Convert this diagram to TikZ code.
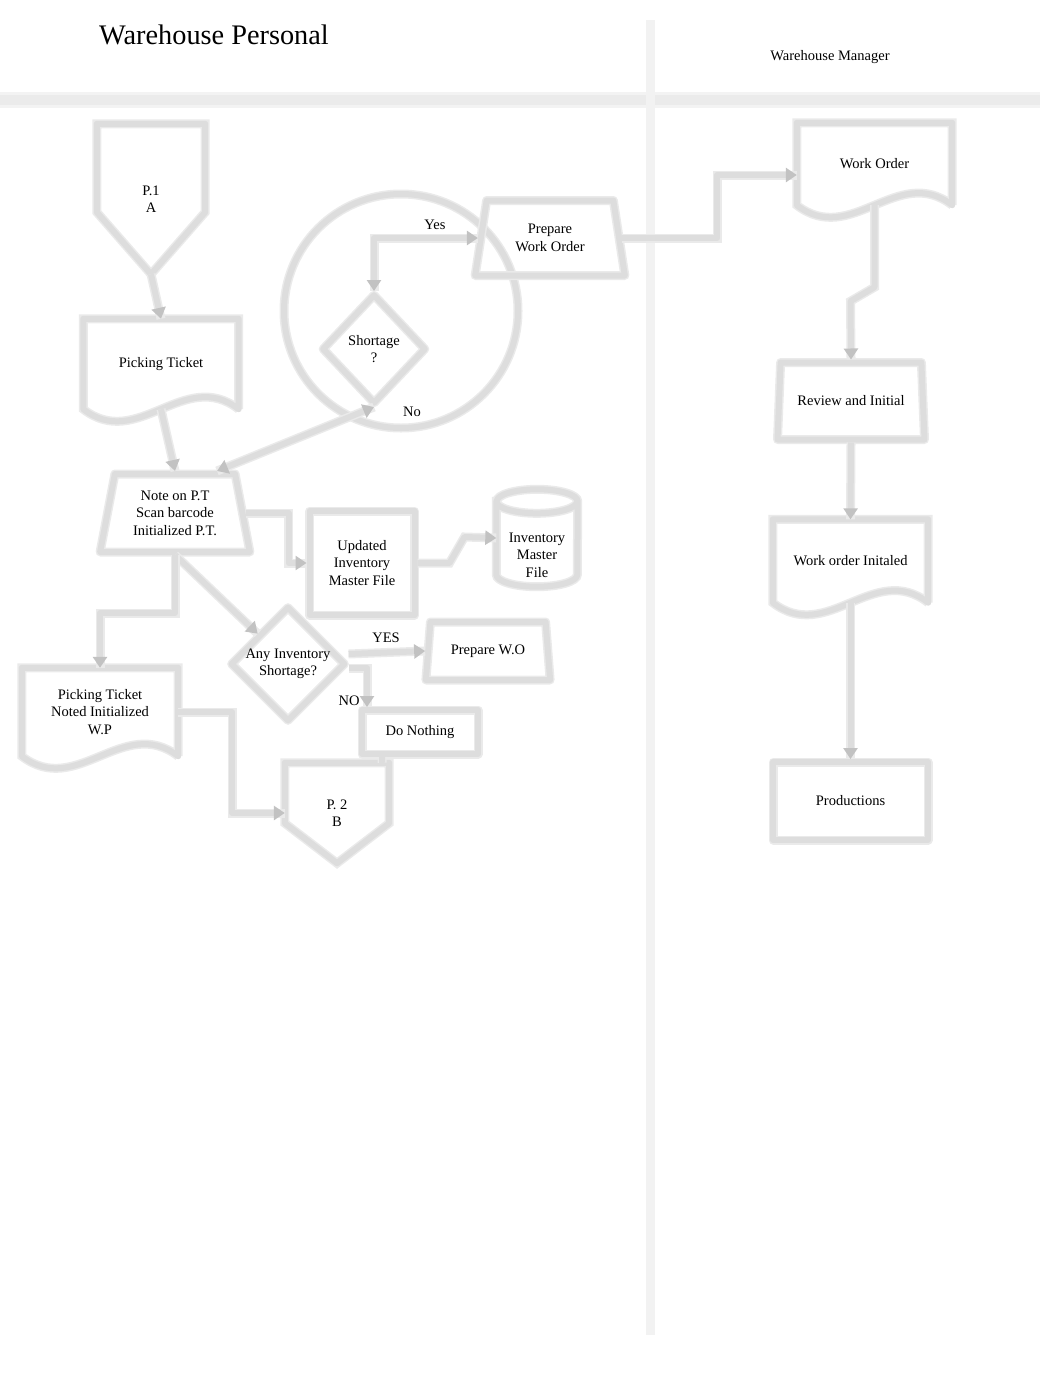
\documentclass[tikz,border=0pt]{standalone}
\usepackage{fontspec}
\setmainfont{Liberation Serif}
\usetikzlibrary{shapes.geometric, arrows.meta, calc, positioning}

\definecolor{shapegray}{HTML}{DDDDDD}
\definecolor{halogray}{HTML}{EAEAEA}
\definecolor{tipgray}{HTML}{C2C2C2}
\definecolor{lanegray}{HTML}{EBEBEB}

\tikzset{
  txt/.style={font=\fontsize{14.5}{17.5}\selectfont, align=center, inner sep=0pt},
  shapeline/.style={draw=shapegray, line width=6pt, line join=round, line cap=round,
    preaction={draw=halogray, line width=9pt}},
  procbox/.style={txt, rectangle, shapeline},
  manual/.style={txt, trapezium, trapezium left angle=77, trapezium right angle=77,
    trapezium stretches=true, shapeline},
  decide/.style={txt, diamond, aspect=1, shapeline},
  docbox/.style={txt, rectangle},
  offpage/.style={txt, rectangle},
  storage/.style={txt, rectangle},
  ring/.style={circle, shapeline, minimum size=234pt},
  wire/.style={draw=shapegray, line width=6pt, line join=round,
    preaction={draw=halogray, line width=9pt, arrows=-}},
  flow/.style={wire, ->},
  both/.style={wire, <->},
  lbl/.style={font=\fontsize{14.5}{17.5}\selectfont, inner sep=0pt},
  lane/.style={draw=lanegray, line width=#1}
}

% outlines of the shapes that tikz has no node shape for
\newcommand{\docoutline}[1]{%
  \draw[shapeline] (#1.south east) -- (#1.north east) -- (#1.north west) -- (#1.south west)
    .. controls ($(#1.south west)!0.35!(#1.south east)+(0,42)$) and ($(#1.south west)!0.65!(#1.south east)+(0,-42)$) .. (#1.south east);}
\newcommand{\offoutline}[2]{%
  \draw[shapeline] (#1.north west) -- ($(#1.south west)+(0,-#2)$) -- (#1.south)
    -- ($(#1.south east)+(0,-#2)$) -- (#1.north east) -- cycle;}
\newcommand{\drumoutline}[1]{%
  \draw[shapeline] ($(#1.north west)+(0,12)$) -- ($(#1.south west)+(0,-12)$)
    arc[start angle=180, end angle=360, x radius=40.5pt, y radius=12pt]
    -- ($(#1.north east)+(0,12)$)
    arc[start angle=0, end angle=180, x radius=40.5pt, y radius=12pt] -- cycle
    ($(#1.north west)+(0,12)$) arc[start angle=180, end angle=360, x radius=40.5pt, y radius=12pt];}

\begin{document}
\begin{tikzpicture}[x=1pt, y=-1pt, >={Triangle[length=11pt, width=14pt, color=tipgray]}]
  \useasboundingbox (0,0) rectangle (1062,1376);

  % lanes
  \coordinate (laneL) at (0,100);
  \coordinate (laneR) at (1040,100);
  \coordinate (laneT) at (650,20);
  \coordinate (laneB) at (650,1335);
  \draw[lane=16pt, draw=lanegray!60] (laneL) -- (laneR);
  \draw[lane=10pt] (laneL) -- (laneR);
  \draw[lane=9pt, draw=lanegray!65] (laneT) -- (laneB);
  \node[inner sep=0pt, font=\fontsize{28.3}{32}\selectfont] (title) at (214,35) {Warehouse Personal};
  \node[lbl] (mgr) at (830,57) {Warehouse Manager};

  % warehouse personal
  \node[ring] (ring) at (401,311) {};
  \node[offpage, minimum width=108pt, minimum height=150pt] (pA) at (151,199) {P.1\\A};
  \node[docbox, minimum width=155pt, minimum height=90pt] (pick) at (161,364) {Picking Ticket};
  \node[manual, minimum width=150pt, minimum height=78pt] (note) at (175,513)
    {Note on P.T\\Scan barcode\\Initialized P.T.};
  \node[decide, minimum width=104pt, minimum height=110pt] (short) at (374,349) {Shortage\\?};
  \node[manual, minimum width=150pt, minimum height=75pt] (pwo) at (550,238) {Prepare\\Work Order};
  \node[procbox, minimum width=105pt, minimum height=104pt] (upd) at (362,563)
    {Updated\\Inventory\\Master File};
  \node[storage, minimum width=81pt, minimum height=97pt] (db) at (537,538)
    {\mbox{}\\[26pt]Inventory\\Master\\File};
  \node[decide, minimum width=114pt, minimum height=108pt] (anyinv) at (288,664)
    {Any Inventory\\Shortage?};
  \node[manual, minimum width=125pt, minimum height=58pt] (pwo2) at (488,651) {Prepare W.O};
  \node[procbox, minimum width=116pt, minimum height=44pt] (nothing) at (420,732) {Do Nothing};
  \node[docbox, minimum width=156pt, minimum height=88pt] (ptn) at (100,712)
    {Picking Ticket\\Noted Initialized\\W.P};
  \node[offpage, minimum width=104pt, minimum height=100pt] (p2) at (337,813) {P. 2\\B};

  % warehouse manager
  \node[docbox, minimum width=155pt, minimum height=82pt] (wo) at (874.5,164) {Work Order};
  \node[manual, minimum width=147pt, minimum height=77pt] (rev) at (851,401) {Review and Initial};
  \node[docbox, minimum width=155pt, minimum height=83pt] (woi) at (850.5,561) {Work order Initaled};
  \node[procbox, minimum width=155pt, minimum height=78pt] (prod) at (850.5,801) {Productions};

  \offoutline{pA}{62}
  \offoutline{p2}{40}
  \docoutline{pick}
  \docoutline{ptn}
  \docoutline{wo}
  \docoutline{woi}
  \drumoutline{db}
%
  \draw[flow] (pA.south) -- (pick.north);
  \draw[flow] (pick.south) -- (note.north);
  \draw[both] (short.north) |- (pwo.west);
  \draw[both] (short.south) -- (note.north east);
  \draw[flow] (pwo.east) -- ++(95,0) |- ([yshift=-11pt]wo.west);
  \draw[flow] (wo.south) -- ++(0,82) -- ++(-24,14) -- (rev.north);
  \draw[flow] (rev.south) -- (woi.north);
  \draw[flow] (woi.south) -- (prod.north);
  \draw[flow] (note.east) -- ++(43,0) |- (upd.west);
  \draw[flow] (upd.east) -- ++(32,0) -- ++(15,-26) -- (db.west);
  \draw[flow] (note.south) -- (anyinv.north west);
  \draw[flow] (note.south) -- ++(0,58) -| (ptn.north);
  \draw[flow] (ptn.east) -- ++(54,0) |- (p2.west);
  \draw[flow] ([yshift=10pt]anyinv.east) -- (pwo2.west);
  \draw[flow] ([yshift=-4pt]anyinv.east) -| ([xshift=8pt]nothing.north west);
  \draw[wire] ([xshift=-38pt]nothing.south) -- ([xshift=-7pt]p2.north east);

  \node[lbl] (yes1) at (435,225) {Yes};
  \node[lbl] (no1) at (412,412) {No};
  \node[lbl] (yes2) at (386,638) {YES};
  \node[lbl] (no2) at (349,701) {NO};
\end{tikzpicture}
\end{document}
